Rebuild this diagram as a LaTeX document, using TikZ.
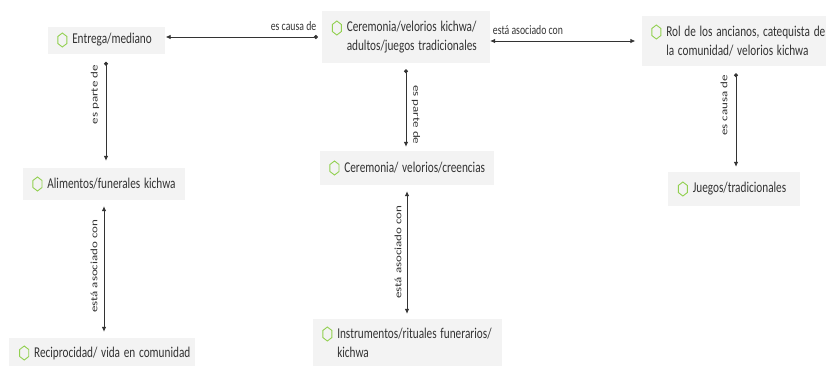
\documentclass[tikz,border=0pt]{standalone}
\usepackage{fontspec}
\setmainfont{Carlito}
\usetikzlibrary{arrows.meta,shapes.geometric}
\definecolor{boxgray}{RGB}{243,243,243}
\definecolor{gemgreen}{RGB}{146,208,80}
\definecolor{inkgray}{RGB}{51,51,51}

\begin{document}
\begin{tikzpicture}[x=1pt, y=-1pt,
 box/.style={fill=boxgray, text=inkgray, xscale=.75, inner xsep=0pt, inner ysep=2pt, align=left, font=\fontsize{15}{19}\selectfont, execute at begin node={\leftskip=33pt\relax}},
 gem/.style={draw=gemgreen, line width=.9pt, regular polygon, regular polygon sides=6, shape border rotate=90, minimum size=14pt, inner sep=0pt, xscale=.75},
 lbl/.style={text=inkgray, font=\fontsize{13}{15}\selectfont, xscale=.75, inner sep=1pt},
 link/.style={draw=inkgray, line width=.8pt, {Circle[length=4pt]}-{Latex[length=5pt,width=4.5pt]}},
 assoc/.style={draw=inkgray, line width=.8pt, {Latex[length=5pt,width=4.5pt]}-{Latex[length=5pt,width=4.5pt]}}]
\useasboundingbox (0,0) rectangle (826,365);

\node[box, text width=156pt, minimum height=27pt] (ent) at (106,40) {Entrega/mediano};
\node[box, text width=224pt, minimum height=52pt] (cer) at (406,37) {Ceremonia/velorios kichwa/\\adultos/juegos tradicionales};
\node[box, text width=252pt, minimum height=50pt] (rol) at (736,41) {Rol de los ancianos, catequista de\\la comunidad/ velorios kichwa};
\node[box, text width=217pt, minimum height=32pt] (ali) at (104,184) {Alimentos/funerales kichwa};
\node[box, text width=233pt, minimum height=34pt] (cre) at (407,168) {Ceremonia/ velorios/creencias};
\node[box, text width=176pt, minimum height=34pt] (jue) at (734,189) {Juegos/tradicionales};
\node[box, text width=247pt, minimum height=30pt] (rec) at (102,353) {Reciprocidad/ vida en comunidad};
\node[box, text width=252pt, minimum height=48pt] (ins) at (407,343) {Instrumentos/rituales funerarios/\\kichwa};

\foreach \n/\dy in {ent/0,cer/9,rol/9,ali/0,cre/0,jue/0,rec/0,ins/9}
 \node[gem] at ([xshift=15pt,yshift=\dy pt]\n.west) {};

\draw[link, shorten <=4pt, shorten >=1pt] (cer.west) -- (cer.west -| ent.east) node[lbl, pos=.18, above=5pt] {es causa de};
\draw[assoc, shorten <=6pt] (rol.west) -- (rol.west -| cer.east) node[lbl, pos=.75, above=5pt] {está asociado con};
\draw[link, shorten <=8pt, shorten >=7pt] (ent.south) -- (ent.south |- ali.north) node[xshift=-11pt, lbl, rotate=90, pos=.36] {es parte de};
\draw[link, shorten <=6pt, shorten >=4pt] (cer.south) -- (cer.south |- cre.north) node[xshift=10pt, lbl, rotate=-90, pos=.59] {es parte de};
\draw[link, shorten <=7pt, shorten >=5pt] (rol.south) -- (rol.south |- jue.north) node[xshift=-12pt, lbl, rotate=90, pos=.37] {es causa de};
\draw[assoc, shorten <=6pt, shorten >=6pt] (ali.south) -- (ali.south |- rec.north) node[xshift=-10pt, lbl, rotate=90, pos=.48] {está asociado con};
\draw[assoc, shorten <=6pt, shorten >=5pt] (cre.south) -- (cre.south |- ins.north) node[xshift=-9pt, lbl, rotate=90, pos=.5] {está asociado con};
\end{tikzpicture}
\end{document}
